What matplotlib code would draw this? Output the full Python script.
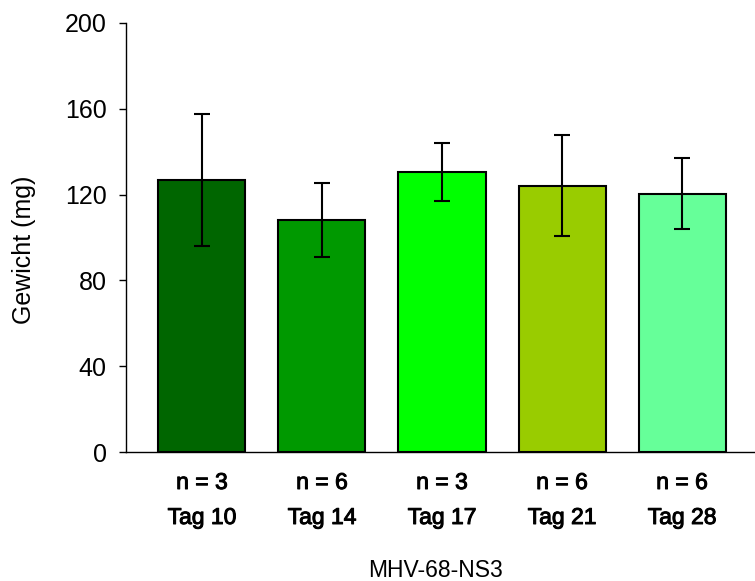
import matplotlib
matplotlib.use('Agg')
import matplotlib.pyplot as plt
import matplotlib.patheffects as pe
import numpy as np

plt.rcParams['font.family'] = ['Liberation Sans', 'DejaVu Sans']

# data
tage = ['Tag 10', 'Tag 14', 'Tag 17', 'Tag 21', 'Tag 28']
n_werte = ['n = 3', 'n = 6', 'n = 3', 'n = 6', 'n = 6']
gewicht = [126.8, 108.0, 130.7, 124.2, 120.4]
fehler = [30.7, 17.3, 13.5, 23.5, 16.5]
farben = ['#006600', '#009900', '#00ff00', '#99cc00', '#66ff99']

fig = plt.figure(figsize=(7.55, 5.81), dpi=100)
ax = fig.add_axes([126 / 755, 1 - 452 / 581, 1 - 126 / 755, 429 / 581])

x = np.arange(len(tage))
ax.bar(x, gewicht, width=0.725, color=farben, edgecolor='black', linewidth=1.5, zorder=2)
ax.errorbar(x, gewicht, yerr=fehler, fmt='none', ecolor='black',
            elinewidth=1.5, capsize=6, capthick=1.5, zorder=3)

ax.set_xlim(-0.633, 4.608)
ax.set_ylim(0, 200)
ax.set_yticks([0, 40, 80, 120, 160, 200])
ax.tick_params(axis='y', direction='out', length=5, width=1, pad=9, labelsize=18)
ax.set_xticks([])

for s in ['top', 'right']:
    ax.spines[s].set_visible(False)
ax.spines['left'].set_linewidth(1)
ax.spines['bottom'].set_linewidth(1)

# category labels, two rows, slightly heavier than regular
dick = [pe.withStroke(linewidth=0.7, foreground='black')]
trans = ax.get_xaxis_transform()
for xi, n, t in zip(x, n_werte, tage):
    ax.text(xi, -37 / 429, n, transform=trans, ha='center', va='baseline',
            fontsize=16.5, clip_on=False, path_effects=dick)
    ax.text(xi, -72 / 429, t, transform=trans, ha='center', va='baseline',
            fontsize=16.5, clip_on=False, path_effects=dick)

fig.text(24 / 755, 1 - 250 / 581, 'Gewicht (mg)', rotation=90, ha='center',
         va='center', fontsize=18)
fig.text(436 / 755, 4 / 581, 'MHV-68-NS3', ha='center', va='baseline', fontsize=16.5)

fig.savefig('out.png', dpi=100)
